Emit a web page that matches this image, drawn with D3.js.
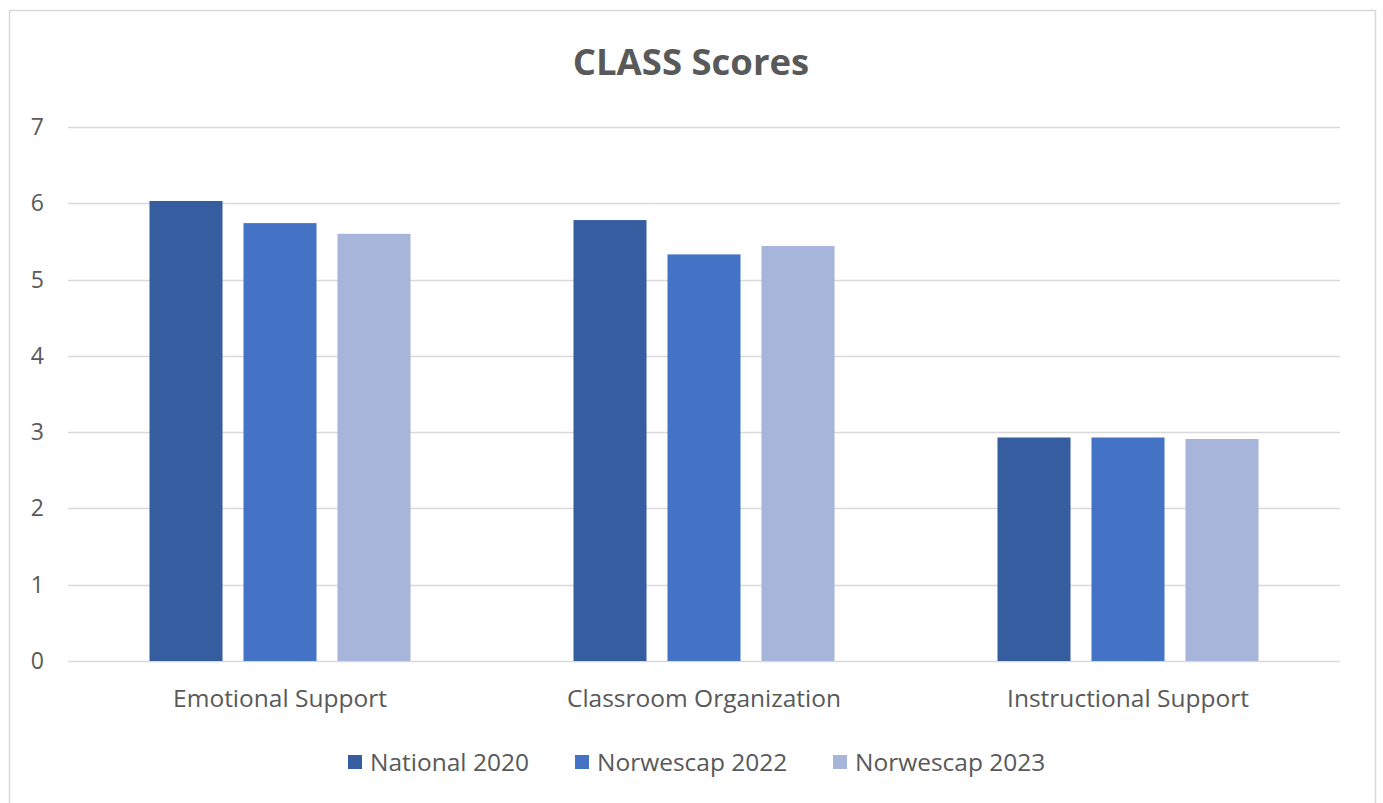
<!DOCTYPE html>
<html><head><meta charset="utf-8">
<script src="https://cdn.jsdelivr.net/npm/d3@7"></script>
<style>body{margin:0;background:#fff;}svg{display:block;}</style>
</head><body>
<svg id="c" width="1383" height="803"></svg>
<script>
const title = "CLASS Scores";
const categories = ["Emotional Support", "Classroom Organization", "Instructional Support"];
const seriesNames = ["National 2020", "Norwescap 2022", "Norwescap 2023"];
const national2020 = [6.03, 5.78, 2.93];
const norwescap2022 = [5.74, 5.33, 2.93];
const norwescap2023 = [5.60, 5.44, 2.91];
const yTicks = [0, 1, 2, 3, 4, 5, 6, 7];
const colors = ["#355DA0", "#4472C4", "#A8B5DA"];

(function () {
const seriesValues = [national2020, norwescap2022, norwescap2023];
const svg = d3.select("#c");
const font = "'Open Sans', 'Noto Sans', sans-serif";
const textColor = "#595959";

// chart border
svg.append("rect").attr("x", 9.5).attr("y", 10.5).attr("width", 1366).attr("height", 820)
  .attr("fill", "#fff").attr("stroke", "#d9d9d9").attr("stroke-width", 1.5);

const plotLeft = 68, plotRight = 1340, plotTop = 127, plotBottom = 661;
const y = d3.scaleLinear().domain([0, 7]).range([plotBottom, plotTop]);
const x0 = d3.scaleBand().domain(categories).range([plotLeft, plotRight]).paddingInner(0).paddingOuter(0);
const x1 = d3.scaleBand().domain(seriesNames).range([0, x0.bandwidth()]).paddingInner(0.223).paddingOuter(0.867);

// gridlines
svg.append("g").selectAll("line").data(yTicks).join("line")
  .attr("x1", plotLeft).attr("x2", plotRight)
  .attr("y1", d => Math.round(y(d)) + 0.5).attr("y2", d => Math.round(y(d)) + 0.5)
  .attr("stroke", "#d9d9d9").attr("stroke-width", 1.5);

// y tick labels
svg.append("g").selectAll("text").data(yTicks).join("text")
  .attr("x", 44).attr("y", d => y(d)).attr("dy", "0.35em")
  .attr("text-anchor", "end").attr("font-family", font).attr("font-size", 23)
  .attr("fill", textColor).text(d => d);

// bars
const groups = svg.append("g").selectAll("g").data(categories).join("g")
  .attr("transform", c => `translate(${x0(c)},0)`);
groups.selectAll("rect").data((c, ci) => seriesNames.map((s, si) => ({s, si, v: seriesValues[si][ci]})))
  .join("rect")
  .attr("x", d => x1(d.s)).attr("width", x1.bandwidth())
  .attr("y", d => y(d.v)).attr("height", d => y(0) - y(d.v))
  .attr("fill", d => colors[d.si]);

// category labels
svg.append("g").selectAll("text").data(categories).join("text")
  .attr("x", c => x0(c) + x0.bandwidth() / 2).attr("y", 698).attr("dy", "0.35em")
  .attr("text-anchor", "middle").attr("font-family", font).attr("font-size", 24.5)
  .attr("fill", textColor).text(c => c);

// title
svg.append("text").attr("x", 691).attr("y", 62).attr("dy", "0.35em")
  .attr("text-anchor", "middle").attr("font-family", font).attr("font-size", 36.5)
  .attr("font-weight", "bold").attr("fill", textColor).text(title);

// legend
const legendX = [348, 575, 833];
const lg = svg.append("g").selectAll("g").data(seriesNames).join("g")
  .attr("transform", (d, i) => `translate(${legendX[i]},762)`);
lg.append("rect").attr("x", 0).attr("y", -7).attr("width", 14).attr("height", 14)
  .attr("fill", (d, i) => colors[i]);
lg.append("text").attr("x", 22).attr("y", 0).attr("dy", "0.35em")
  .attr("font-family", font).attr("font-size", 24.5).attr("fill", textColor).text(d => d);
})();
</script>
</body></html>
